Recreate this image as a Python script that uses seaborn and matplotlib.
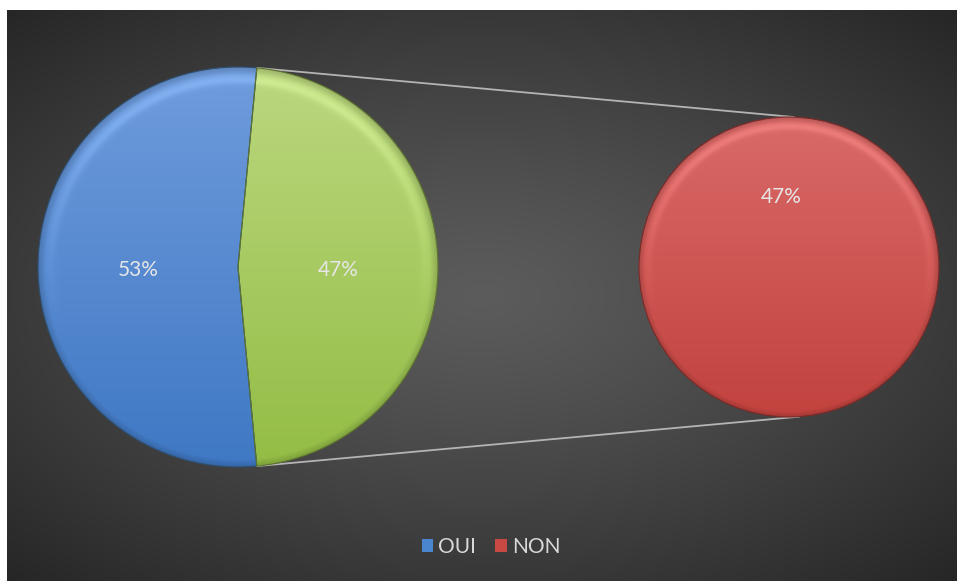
import numpy as np
import matplotlib
matplotlib.use("Agg")
import matplotlib.pyplot as plt
import seaborn as sns
from matplotlib.patches import Patch
from matplotlib.colors import to_rgb

# Survey answers
categories = ["OUI", "NON"]
shares = [53, 47]

# Fill colours (top / bottom of the vertical gradient)
blue_top, blue_bottom = "#6f9cdc", "#3f78c4"
green_top, green_bottom = "#bcd77f", "#93bd45"
red_top, red_bottom = "#d96a68", "#c2423e"
legend_colors = ["#4a86d0", "#c84844"]

sns.set_theme(style="white")
plt.rcParams["font.family"] = ["Lato", "DejaVu Sans"]

W, H = 957, 581
fig = plt.figure(figsize=(W / 100, H / 100), dpi=100)
fig.patch.set_facecolor("white")

# Dark panel with a soft radial glow
bg = fig.add_axes([7 / W, 0, (W - 7) / W, (H - 10) / H])
gy, gx = np.mgrid[-1:1:300j, -1:1:500j]
d = np.sqrt((gx * 0.95) ** 2 + (gy * 1.0) ** 2) / np.sqrt(0.95 ** 2 + 1)
lum = 0.36 - 0.21 * np.clip(d, 0, 1) ** 1.2
bg.imshow(np.dstack([lum, lum, lum]), aspect="auto", extent=(0, 1, 0, 1))
bg.axis("off")

ax = fig.add_axes([0, 0, 1, 1])
ax.patch.set_alpha(0)

main_c, main_r = (238, 314), 200
side_c, side_r = (789, 314), 150
start = 180 - shares[0] * 3.6 / 2
txt = dict(color="#e6e6e6", fontsize=15)


def shaded_fill(wedge, center, radius, top, bottom, z=2):
    n = 400
    yy, xx = np.mgrid[-1:1:n * 1j, -1:1:n * 1j]
    t = (yy + 1) / 2
    top, bottom = np.array(to_rgb(top)), np.array(to_rgb(bottom))
    rgb = bottom[None, None, :] + (top - bottom)[None, None, :] * t[..., None]
    dist = np.sqrt(xx ** 2 + yy ** 2)
    rim = np.clip((dist - 0.965) / 0.035, 0, 1)
    glow = 0.08 * np.exp(-((dist - 0.94) / 0.025) ** 2) * np.clip(yy + 0.3, 0, 1)
    rgb = rgb * (1 - 0.15 * rim[..., None]) + glow[..., None]
    rgb = np.clip(rgb, 0, 1)
    cx, cy = center
    im = ax.imshow(rgb, origin="lower", zorder=z, interpolation="bilinear",
                   extent=(cx - radius, cx + radius, cy - radius, cy + radius))
    im.set_clip_path(wedge)
    wedge.set_facecolor("none")
    wedge.set_zorder(z + 1)


wedges, _, autos = ax.pie(
    shares, startangle=start, center=main_c, radius=main_r,
    autopct=lambda p: f"{p:.0f}%", pctdistance=0.5, textprops=txt,
    wedgeprops=dict(linewidth=0.8, edgecolor="#2f4f6f"),
)
wedges[1].set_edgecolor("#5d7330")
shaded_fill(wedges[0], main_c, main_r, blue_top, blue_bottom)
shaded_fill(wedges[1], main_c, main_r, green_top, green_bottom)

side, _, side_auto = ax.pie(
    [shares[1]], startangle=-84, center=side_c, radius=side_r,
    autopct=lambda p: f"{shares[1]}%", pctdistance=0.49, textprops=txt,
    wedgeprops=dict(linewidth=0.8, edgecolor="#7a2a28"),
)
shaded_fill(side[0], side_c, side_r, red_top, red_bottom)
for a in list(autos) + list(side_auto):
    a.set_zorder(6)
    a.set_y(a.get_position()[1] - 3)

# Connector lines between the two pies
a0 = np.deg2rad(start)
p_top = (main_c[0] + main_r * np.cos(a0), main_c[1] + main_r * np.sin(a0))
p_bot = (main_c[0] + main_r * np.cos(a0), main_c[1] - main_r * np.sin(a0))
q_top = (side_c[0] + side_r * np.cos(np.deg2rad(88)), side_c[1] + side_r * np.sin(np.deg2rad(88)))
q_bot = (side_c[0] + side_r * np.cos(np.deg2rad(-86)), side_c[1] + side_r * np.sin(np.deg2rad(-86)))
for p, q in [(p_top, q_top), (p_bot, q_bot)]:
    ax.plot([p[0], q[0]], [p[1], q[1]], color="#b4b4b4", lw=1.3, zorder=1)

ax.set_xlim(0, W)
ax.set_ylim(0, H)
ax.set_aspect("equal")
ax.axis("off")

handles = [Patch(facecolor=c, edgecolor="none") for c in legend_colors]
fig.legend(handles, categories, loc="center", bbox_to_anchor=(491 / W, 1 - 547 / H),
           ncol=2, frameon=False, fontsize=15, labelcolor="#d9d9d9",
           handlelength=0.55, handleheight=0.55, handletextpad=0.25, columnspacing=0.9)

fig.savefig("out.png", dpi=100)
